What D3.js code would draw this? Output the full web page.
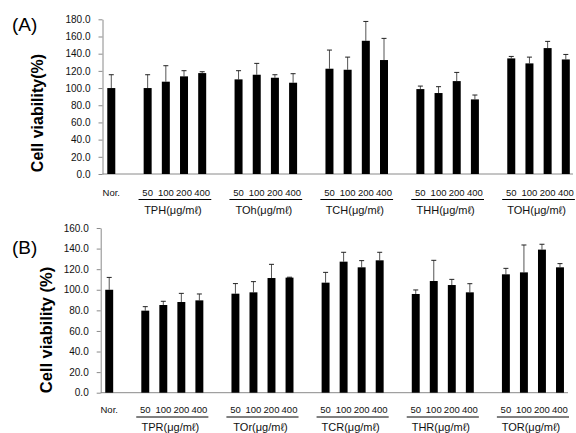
<!DOCTYPE html>
<html>
<head>
<meta charset="utf-8">
<script src="https://cdn.jsdelivr.net/npm/d3@7"></script>
<style>
  body { margin: 0; background: #fff; }
  svg { display: block; font-family: "Liberation Sans", Arial, sans-serif; }
  .axis path, .axis line { stroke: #8a8a8a; }
  .axis text { font-size: 10px; fill: #111; }
</style>
</head>
<body>
<div id="chart"></div>
<script>
// shared dose labels
const doses = ['50', '100', '200', '400'];

// panel A
const groupsA = ['TPH', 'TOh', 'TCH', 'THH', 'TOH'];
const norA = [100.0, 15.5];                       // mean, error
const meansA = [
  100.0, 107.4, 113.6, 117.4,
  110.1, 115.5, 112.0, 106.2,
  122.5, 121.3, 155.0, 132.6,
  98.8, 94.2, 108.1, 86.8,
  134.5, 128.7, 146.5, 133.3
];
const errorsA = [
  15.5, 18.6, 6.6, 1.6,
  10.1, 13.2, 3.5, 10.5,
  21.7, 14.7, 22.5, 25.2,
  3.5, 7.4, 10.1, 5.1,
  2.3, 7.3, 7.8, 5.8
];
const ticksA = [0, 20, 40, 60, 80, 100, 120, 140, 160, 180];

// panel B
const groupsB = ['TPR', 'TOr', 'TCR', 'THR', 'TOR'];
const norB = [100.0, 12.0];
const meansB = [
  79.7, 85.2, 88.1, 89.7,
  96.2, 97.5, 111.4, 111.8,
  106.9, 127.3, 121.8, 128.6,
  95.9, 108.5, 104.6, 97.5,
  115.0, 116.9, 139.0, 121.8
];
const errorsB = [
  3.9, 3.6, 8.4, 6.2,
  9.8, 10.4, 13.3, 0.4,
  10.0, 9.1, 6.5, 7.8,
  3.9, 20.1, 5.5, 8.4,
  5.8, 26.6, 5.2, 3.6
];
const ticksB = [0, 20, 40, 60, 80, 100, 120, 140, 160];

const width = 576, height = 433;
const unit = '(μg/mℓ)';

const svg = d3.select('#chart').append('svg')
  .attr('width', width)
  .attr('height', height);

function drawPanel(p) {
  const g = svg.append('g');

  // 26 slots: Nor, gap, then 5 groups of 4 with a gap between
  const nSlots = 1 + p.groups.length * 5;
  const x = d3.scaleBand()
    .domain(d3.range(nSlots))
    .range([p.x0, p.x1])
    .paddingInner(0.56)
    .paddingOuter(0.28);
  const step = x.step();

  const y = d3.scaleLinear()
    .domain([0, d3.max(p.ticks)])
    .range([p.y0, p.y1]);

  const bars = [{ slot: 0, mean: p.nor[0], err: p.nor[1], label: 'Nor.' }];
  p.means.forEach((m, i) => {
    const gi = Math.floor(i / 4), di = i % 4;
    bars.push({ slot: 2 + gi * 5 + di, mean: m, err: p.errors[i], label: doses[di] });
  });

  // y axis
  g.append('g')
    .attr('class', 'axis')
    .attr('transform', `translate(${p.axisX},0)`)
    .call(d3.axisLeft(y)
      .tickValues(p.ticks)
      .tickFormat(d3.format('.1f'))
      .tickSize(4)
      .tickSizeOuter(0)
      .tickPadding(8));

  // baseline
  g.append('line')
    .attr('x1', p.axisX).attr('x2', p.baseEnd)
    .attr('y1', y(0)).attr('y2', y(0))
    .attr('stroke', '#8a8a8a');

  // error bars (upper only)
  const eb = g.append('g').selectAll('g')
    .data(bars)
    .join('g');
  eb.append('line')
    .attr('x1', d => x(d.slot) + x.bandwidth() / 2)
    .attr('x2', d => x(d.slot) + x.bandwidth() / 2)
    .attr('y1', d => y(d.mean))
    .attr('y2', d => y(d.mean + d.err))
    .attr('stroke', '#555')
    .attr('stroke-width', 1);
  eb.append('line')
    .attr('x1', d => x(d.slot) + x.bandwidth() / 2 - 2.5)
    .attr('x2', d => x(d.slot) + x.bandwidth() / 2 + 2.5)
    .attr('y1', d => y(d.mean + d.err))
    .attr('y2', d => y(d.mean + d.err))
    .attr('stroke', '#222')
    .attr('stroke-width', 1);

  // bars
  g.append('g').selectAll('rect')
    .data(bars)
    .join('rect')
    .attr('x', d => x(d.slot))
    .attr('width', x.bandwidth())
    .attr('y', d => y(d.mean))
    .attr('height', d => y(0) - y(d.mean))
    .attr('fill', '#000');

  // dose labels
  g.append('g').selectAll('text')
    .data(bars)
    .join('text')
    .attr('x', d => x(d.slot) + x.bandwidth() / 2)
    .attr('y', p.labelY)
    .attr('text-anchor', 'middle')
    .style('font-size', '9.5px')
    .style('fill', '#111')
    .text(d => d.label);

  // group lines + names
  p.groups.forEach((name, gi) => {
    const s0 = 2 + gi * 5;
    const left = x(s0) - x.paddingOuter() * step;
    const right = left + 4 * step;
    g.append('line')
      .attr('x1', left).attr('x2', right)
      .attr('y1', p.lineY).attr('y2', p.lineY)
      .attr('stroke', '#000')
      .attr('stroke-width', 1);
    g.append('text')
      .attr('x', (left + right) / 2 - 2)
      .attr('y', p.groupY)
      .attr('text-anchor', 'middle')
      .style('font-size', '11px')
      .style('fill', '#111')
      .text(name + unit);
  });

  // panel tag
  g.append('text')
    .attr('x', 12)
    .attr('y', p.tagY)
    .style('font-size', '19px')
    .text(p.tag);

  // y title
  g.append('text')
    .attr('transform', `translate(${p.titleX},${p.titleY}) rotate(-90)`)
    .attr('text-anchor', 'middle')
    .attr('dominant-baseline', 'central')
    .style('font-size', p.titleSize + 'px')
    .style('font-weight', 'bold')
    .text(p.title);
}

drawPanel({
  tag: '(A)', tagY: 31,
  title: 'Cell viability(%)', titleX: 37, titleY: 113, titleSize: 16,
  groups: groupsA, nor: norA, means: meansA, errors: errorsA, ticks: ticksA,
  x0: 102.2, x1: 574.9, axisX: 102.5, baseEnd: 573,
  y0: 174, y1: 19.3,
  labelY: 196, lineY: 199.5, groupY: 214
});

drawPanel({
  tag: '(B)', tagY: 254,
  title: 'Cell viability (%)', titleX: 46, titleY: 330, titleSize: 16.5,
  groups: groupsB, nor: norB, means: meansB, errors: errorsB, ticks: ticksB,
  x0: 100.2, x1: 569, axisX: 100.7, baseEnd: 568,
  y0: 392.7, y1: 228,
  labelY: 413, lineY: 417, groupY: 430.5
});
</script>
</body>
</html>
